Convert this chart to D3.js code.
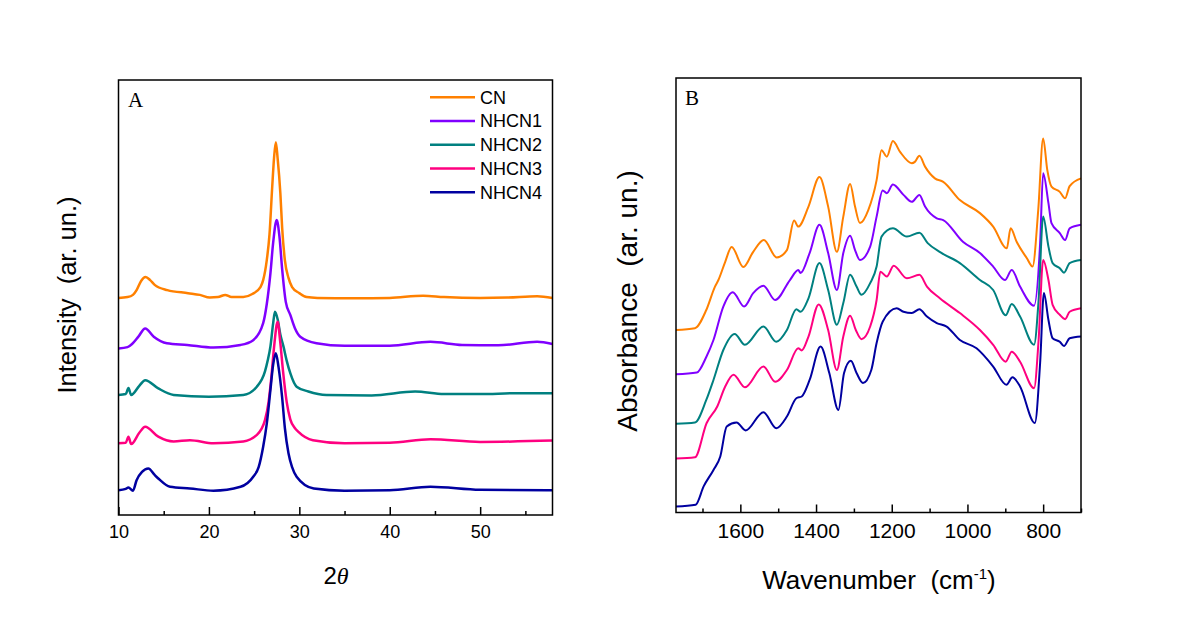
<!DOCTYPE html>
<html>
<head>
<meta charset="utf-8">
<script src="https://cdn.jsdelivr.net/npm/d3@7"></script>
<style>
  html, body { margin: 0; padding: 0; background: #ffffff; }
  svg text { font-family: "Liberation Sans", Arial, sans-serif; fill: #000; }
</style>
</head>
<body>
<svg id="chart" width="1179" height="624"></svg>
<script>
// ---------------- DATA ----------------
const seriesNames = ["CN", "NHCN1", "NHCN2", "NHCN3", "NHCN4"];
const seriesColors = ["#FF8000", "#8000FF", "#008080", "#FF0080", "#0000A0"];

// Panel A: XRD, [2theta, intensity (arb., offset)]
const xrdCN = [[10,49.9],[11,50.1],[11.6,50.6],[12,51.7],[12.5,53.8],[13.0,54.7],[13.5,54.0],[14.0,52.9],[15.4,51.7],[17.7,51.0],[19,50.6],[20.1,50.0],[21.0,50.1],[21.8,50.6],[22.5,50.1],[23.8,50.1],[24.8,50.8],[25.7,52.4],[26.0,54.0],[26.4,58.6],[26.7,64.5],[27.0,75.4],[27.2,82.0],[27.4,85.7],[27.6,82.0],[27.9,74.0],[28.1,66.0],[28.4,58.6],[28.8,54.5],[29.2,52.4],[30.0,51.0],[30.8,50.1],[32,49.9],[36,49.8],[40,49.9],[43.7,50.4],[46,50.1],[50,49.9],[53,50.0],[56.3,50.3],[58,49.9]];
const xrdNHCN1 = [[10,38.3],[11,38.6],[11.5,39.3],[12.2,41.0],[12.95,42.9],[13.9,41.0],[15.35,39.5],[17.6,39.1],[20.5,38.5],[23.5,39.1],[24.9,40.2],[26.0,44.1],[26.4,48.5],[26.8,55.5],[27.1,62.5],[27.5,67.8],[27.8,64.0],[28.1,56.5],[28.5,49.0],[29.0,46.0],[29.5,43.0],[30.1,41.0],[31.9,39.5],[35,38.9],[40,38.9],[44.5,39.8],[48,39.1],[52,39.0],[56.3,39.8],[58,39.3]];
const xrdNHCN2 = [[10,27.6],[10.8,27.8],[11.1,29.2],[11.4,27.6],[12.3,29.7],[12.95,31.0],[14.4,29.1],[16.1,27.6],[20,27.2],[23.8,27.6],[25.3,29.5],[26.2,33.0],[26.5,35.5],[26.8,38.7],[27.1,44.0],[27.3,46.7],[27.6,45.0],[27.9,41.5],[28.25,38.7],[28.6,35.5],[29.0,32.6],[29.7,29.5],[31,28.4],[33,27.6],[38,27.5],[42.8,28.4],[46,27.8],[50,27.8],[54,28.0],[58,28.0]];
const xrdNHCN3 = [[10,16.5],[10.8,16.6],[11.1,18.0],[11.4,16.3],[12.3,18.9],[12.95,20.3],[14.4,18.0],[16.1,16.9],[17.9,17.2],[20.5,16.5],[23.8,16.9],[25.3,18.4],[26.2,21.8],[26.6,26.0],[26.9,31.5],[27.2,38.5],[27.6,44.4],[27.9,39.5],[28.2,33.0],[28.6,26.0],[29.0,22.0],[29.5,20.0],[29.9,19.1],[31.5,17.2],[35,16.5],[40,16.6],[44.5,17.4],[50,16.8],[58,17.1]];
const xrdNHCN4 = [[10,5.7],[10.8,6.0],[11.1,6.3],[11.6,5.6],[12.0,8.0],[12.6,9.9],[13.3,10.7],[14.0,9.2],[14.4,8.4],[15.7,6.5],[17.9,6.1],[20.5,5.6],[23.5,6.5],[24.9,8.8],[25.5,11.0],[26.0,15.7],[26.4,21.0],[26.8,28.7],[27.1,34.5],[27.4,37.2],[27.7,34.0],[28.1,27.0],[28.4,20.0],[28.8,14.2],[29.2,11.0],[29.7,8.8],[31.6,6.1],[35,5.6],[40,5.7],[44.5,6.5],[50,5.8],[58,5.7]];

// Panel B: FTIR, [wavenumber, absorbance (arb., offset)]
const irCN = [[1770,42.0],[1720,42.4],[1690,46.6],[1667,52.0],[1658,53.5],[1640,57.7],[1623,61.1],[1592,56.5],[1566,60.0],[1538,62.7],[1504,58.7],[1477,60.4],[1458,67.2],[1447,65.8],[1420,70.4],[1391,77.2],[1368,70.4],[1345,60.0],[1328,68.1],[1310,75.6],[1297,70.4],[1284,66.6],[1262,69.6],[1240,76.5],[1227,83.4],[1213,81.9],[1197,85.5],[1178,83.0],[1147,80.4],[1139,80.7],[1127,82.1],[1112,79.6],[1086,76.9],[1064,76.1],[1020,71.9],[967,68.9],[932,65.8],[896,60.8],[886,65.4],[870,62.3],[843,58.5],[828,56.6],[813,69.6],[800,86.1],[789,78.8],[778,75.0],[756,73.8],[742,72.3],[730,75.1],[700,76.9]];
const irNHCN1 = [[1770,31.8],[1715,32.2],[1690,35.8],[1671,39.7],[1645,47.4],[1620,50.7],[1590,47.4],[1566,50.5],[1539,52.2],[1508,48.9],[1469,53.5],[1447,55.8],[1441,55.1],[1417,59.7],[1391,66.2],[1368,59.7],[1345,51.2],[1328,59.7],[1310,63.7],[1297,60.4],[1284,58.1],[1257,61.2],[1240,68.1],[1224,74.1],[1213,73.5],[1197,75.5],[1169,73.1],[1147,71.5],[1127,73.1],[1112,70.4],[1081,67.7],[1064,67.3],[1012,62.3],[967,59.7],[932,56.6],[901,53.5],[883,55.8],[861,52.0],[824,47.6],[808,62.0],[800,78.1],[786,71.2],[778,66.6],[756,64.3],[742,62.7],[730,65.4],[700,66.2]];
const irNHCN2 = [[1770,20.4],[1720,20.7],[1690,25.9],[1671,30.5],[1645,37.4],[1615,41.1],[1588,38.6],[1539,42.8],[1505,39.3],[1477,42.0],[1452,46.8],[1441,46.2],[1420,49.3],[1391,57.4],[1368,51.2],[1345,43.2],[1328,48.2],[1310,54.7],[1293,52.0],[1280,50.1],[1257,52.8],[1240,56.6],[1227,63.5],[1197,65.4],[1160,63.5],[1127,64.4],[1105,62.0],[1070,59.8],[1020,57.4],[967,53.5],[932,51.2],[899,45.4],[883,48.0],[861,45.1],[824,38.6],[812,48.9],[800,68.1],[786,61.2],[775,57.4],[756,56.2],[745,55.2],[730,57.4],[700,58.1]];
const irNHCN3 = [[1770,12.4],[1720,12.7],[1689,20.6],[1661,24.4],[1640,29.0],[1618,31.7],[1588,28.8],[1539,33.6],[1508,30.1],[1477,32.8],[1447,37.8],[1438,37.3],[1420,40.5],[1393,47.9],[1368,42.0],[1345,32.8],[1328,40.5],[1310,45.3],[1295,42.0],[1280,39.9],[1257,42.8],[1240,48.9],[1230,55.4],[1213,54.3],[1195,56.8],[1160,53.9],[1127,54.7],[1107,52.0],[1073,49.3],[1020,45.9],[967,42.0],[932,38.6],[899,34.7],[883,37.0],[861,34.7],[824,28.6],[812,39.7],[800,58.1],[786,53.5],[775,47.8],[756,45.5],[742,44.5],[730,46.2],[700,47.0]];
const irNHCN4 = [[1770,1.4],[1718,1.8],[1697,6.0],[1671,9.8],[1653,12.9],[1636,19.8],[1610,20.7],[1586,18.9],[1539,23.1],[1505,19.4],[1477,22.1],[1452,26.3],[1438,26.7],[1417,30.5],[1388,38.2],[1365,32.1],[1341,23.6],[1326,32.1],[1308,34.9],[1293,32.1],[1276,29.8],[1254,32.8],[1240,39.0],[1224,43.9],[1187,47.0],[1169,46.2],[1147,45.9],[1127,46.8],[1107,45.1],[1081,43.6],[1055,42.8],[1020,39.7],[976,37.8],[932,33.6],[897,29.4],[881,31.1],[861,29.0],[822,20.6],[808,34.4],[798,50.5],[786,44.3],[775,40.1],[756,39.3],[745,38.3],[730,40.1],[700,40.5]];

const xrdTicks = [10, 20, 30, 40, 50];
const xrdMinorTicks = [15, 25, 35, 45, 55];
const irTicks = [1600, 1400, 1200, 1000, 800];
const irMinorTicks = [1700, 1500, 1300, 1100, 900, 700];

const xrdSeries = [xrdCN, xrdNHCN1, xrdNHCN2, xrdNHCN3, xrdNHCN4];
const irSeries = [irCN, irNHCN1, irNHCN2, irNHCN3, irNHCN4];

// ---------------- DRAW ----------------
const svg = d3.select("#chart");

function panel(cfg) {
  const g = svg.append("g");
  const x = d3.scaleLinear().domain(cfg.xDomain).range([cfg.left, cfg.right]);
  const y = d3.scaleLinear().domain([0, 100]).range([cfg.bottom, cfg.top]);

  const line = d3.line().x(d => x(d[0])).y(d => y(d[1])).curve(d3.curveMonotoneX);
  cfg.series.forEach((s, i) => {
    g.append("path").datum(s)
      .attr("fill", "none")
      .attr("stroke", seriesColors[i])
      .attr("stroke-width", cfg.lw)
      .attr("stroke-linejoin", "round")
      .attr("d", line);
  });

  g.append("rect")
    .attr("x", cfg.left).attr("y", cfg.top)
    .attr("width", cfg.right - cfg.left).attr("height", cfg.bottom - cfg.top)
    .attr("fill", "none").attr("stroke", "#000").attr("stroke-width", 1.5);

  const ax = d3.axisBottom(x).tickValues(cfg.ticks).tickSize(-cfg.major).tickPadding(cfg.pad)
    .tickFormat(d3.format("d"));
  const axg = g.append("g").attr("transform", `translate(0,${cfg.bottom})`).call(ax);
  axg.select(".domain").remove();
  axg.selectAll(".tick line").attr("stroke", "#000").attr("stroke-width", 1.5);
  axg.selectAll(".tick text")
    .style("font-family", '"Liberation Sans", Arial, sans-serif')
    .style("font-size", cfg.tickFont + "px").attr("fill", "#000");
  const axm = d3.axisBottom(x).tickValues(cfg.minor).tickSize(-cfg.minorLen).tickFormat("");
  const amg = g.append("g").attr("transform", `translate(0,${cfg.bottom})`).call(axm);
  amg.select(".domain").remove();
  amg.selectAll(".tick line").attr("stroke", "#000").attr("stroke-width", 1.5);

  return { g, x, y };
}

const A = panel({
  left: 118.5, right: 552.5, top: 80, bottom: 515,
  xDomain: [10, 58], series: xrdSeries, lw: 2.5,
  ticks: xrdTicks, minor: xrdMinorTicks, major: 8, minorLen: 4, pad: 10, tickFont: 18
});
const B = panel({
  left: 676, right: 1081, top: 78, bottom: 512.5,
  xDomain: [1770, 700], series: irSeries, lw: 2,
  ticks: irTicks, minor: irMinorTicks, major: 8, minorLen: 4, pad: 11, tickFont: 21
});

// Panel letters
svg.append("text").attr("x", 128).attr("y", 107)
  .style("font-family", '"Liberation Serif", "Times New Roman", serif')
  .style("font-size", "21px").text("A");
svg.append("text").attr("x", 685).attr("y", 105)
  .style("font-family", '"Liberation Serif", "Times New Roman", serif')
  .style("font-size", "21px").text("B");

// Legend (panel A)
const leg = svg.append("g");
seriesNames.forEach((name, i) => {
  const yy = 97.3 + i * 23.75;
  leg.append("line").attr("x1", 430).attr("x2", 475).attr("y1", yy).attr("y2", yy)
    .attr("stroke", seriesColors[i]).attr("stroke-width", 2.5);
  leg.append("text").attr("x", 480).attr("y", yy).attr("dy", "0.35em")
    .style("font-size", "18px").text(name);
});

// Axis titles
svg.append("text")
  .attr("transform", "translate(76,295) rotate(-90)")
  .attr("text-anchor", "middle")
  .style("font-size", "25.5px").style("white-space", "pre")
  .text("Intensity  (ar. un.)");

const t2 = svg.append("text").attr("x", 336).attr("y", 584).attr("text-anchor", "middle")
  .style("font-size", "24px");
t2.append("tspan").text("2");
t2.append("tspan")
  .style("font-family", '"Liberation Serif", "Times New Roman", serif')
  .style("font-style", "italic").text("θ");

svg.append("text")
  .attr("transform", "translate(637,301) rotate(-90)")
  .attr("text-anchor", "middle")
  .style("font-size", "28px").style("white-space", "pre")
  .text("Absorbance  (ar. un.)");

const tw = svg.append("text").attr("x", 879).attr("y", 589).attr("text-anchor", "middle")
  .style("font-size", "26px").style("white-space", "pre");
tw.append("tspan").text("Wavenumber  (cm");
tw.append("tspan").attr("dy", "-10").style("font-size", "15px").text("-1");
tw.append("tspan").attr("dy", "10").text(")");
</script>
</body>
</html>
